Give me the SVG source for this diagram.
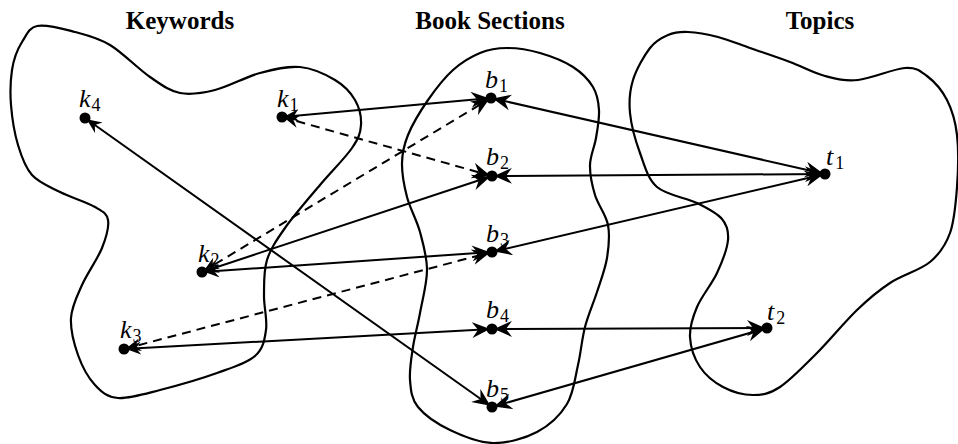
<svg xmlns="http://www.w3.org/2000/svg" width="958" height="444" viewBox="0 0 958 444">
<style>
.blob{fill:none;stroke:#000;stroke-width:2.2}
.e{stroke:#000;stroke-width:2;fill:none;marker-end:url(#big)}
.ks{marker-start:url(#small)}
.bs{marker-start:url(#big)}
.d{stroke-dasharray:9 6}
.dot{fill:#000}
.lab{font-family:"Liberation Serif","Times New Roman",serif;font-style:italic;font-size:26px;fill:#000}
.sub{font-style:normal;font-size:18px}
.title{font-family:"Liberation Serif","Times New Roman",serif;font-weight:bold;font-size:25px;text-anchor:middle;fill:#000}
</style>
<defs>
<marker id="big" viewBox="0 0 18 16" refX="20" refY="8" markerWidth="18" markerHeight="16" markerUnits="userSpaceOnUse" orient="auto-start-reverse"><path d="M18,8 L0,0 L6,8 L0,16 Z" fill="#000"/></marker>
<marker id="small" viewBox="0 0 15 13" refX="17" refY="6.5" markerWidth="15" markerHeight="13" markerUnits="userSpaceOnUse" orient="auto-start-reverse"><path d="M15,6.5 L0,0 L5,6.5 L0,13 Z" fill="#000"/></marker>
</defs>
<g id="titles">
<text class="title" x="180" y="29">Keywords</text>
<text class="title" x="490" y="29">Book Sections</text>
<text class="title" x="820" y="29">Topics</text>
</g>
<g id="regions">
<path id="keywords-region" class="blob" d="M37,26 C46.2,23.8 62.8,28.8 75,32 S 97.5,37.5 110,45 S 138.3,69 150,77 S 169.2,90.8 180,93 S 201.7,93.3 215,90 S 245.8,76.8 260,73 S 287.5,65.8 300,67 S 325.8,74.5 335,80 S 350.7,92.5 355,100 S 361.5,117 361,125 S 358.8,138 352,148 S 331.2,171.7 320,185 S 293.8,215.5 285,228 S 270.5,248.8 267,260 S 264.2,283.3 264,295 S 267.5,319.8 266,330 S 263.2,348.8 255,356 S 232.8,367.3 217,373 S 176.5,385.8 160,390 S 128.8,398.8 118,398 S 101.7,392.2 95,385 S 82,366.2 78,355 S 70.3,329.7 71,318 S 76.8,296.7 82,285 S 97.7,258.8 102,248 S 109.2,226.8 108,220 S 103,211.7 95,207 S 70.5,197.3 60,192 S 39,182.8 32,175 S 21.5,156.7 18,145 S 12,117.5 11,105 S 10.5,80 12,70 S 17,50 22,42 S 30,27 37,26 Z"/>
<path id="sections-region" class="blob" d="M507,48 C517,48 529,49.8 540,53 S 564.2,61.3 573,67 S 588.7,79.8 593,87 S 598.5,101.5 599,110 S 597.5,128.8 596,138 S 590.2,155.5 590,165 S 592,185 595,195 S 606,214.5 608,225 S 608.8,246.8 607,258 S 600.7,280.5 597,292 S 588.2,314.8 585,327 S 581,352.2 578,365 S 573.8,392.8 567,404 S 549.3,425.5 537,432 S 507.5,443.3 493,443 S 462.5,436 450,430 S 424.7,415.3 418,407 S 410.8,390 410,380 S 411.3,358.2 413,347 S 417.7,325.8 420,313 S 427,283.5 427,270 S 423.3,244.2 420,232 S 410,208.5 407,197 S 401.8,173.3 402,163 S 403.7,145.5 408,135 S 420.5,110.8 428,100 S 444.3,77.8 453,70 S 471,56.7 480,53 S 497,48 507,48 Z"/>
<path id="topics-region" class="blob" d="M688,32 C696.3,32.3 707.7,34.3 718,37 S 738,43.8 750,48 S 777.5,57.3 790,62 S 813.7,73 825,76 S 844.7,81.3 858,80 S 893.5,68.7 905,68 S 920,70.7 927,76 S 942,90.2 947,100 S 955.3,120.5 957,135 S 958.2,170.7 957,187 S 954.5,220.5 950,233 S 940,253.7 930,262 S 902.2,275 890,283 S 869.2,298.3 857,310 S 829.8,340.2 817,353 S 790.7,380 780,387 S 762.5,395 753,395 S 731.8,391.7 723,387 S 705.5,375.3 700,367 S 690.5,347 690,337 S 692.5,317.7 697,307 S 711.8,284.2 717,273 S 727.2,249 728,240 S 727.2,225.2 722,219 S 707.8,208.3 697,203 S 666.5,195.3 657,187 S 644.5,165.3 640,153 S 631.2,125.2 630,113 S 629.7,90.8 633,80 S 644.2,55.5 650,48 S 661.7,37.7 668,35 S 679.7,31.7 688,32 Z"/>
</g>
<g id="connectors">
<line class="e ks" x1="282" y1="117" x2="491" y2="98"/>
<line class="e ks d" x1="282" y1="117" x2="492" y2="176"/>
<line class="e ks" x1="85" y1="118" x2="492" y2="407"/>
<line class="e ks d" x1="202" y1="272" x2="491" y2="98"/>
<line class="e ks" x1="202" y1="272" x2="492" y2="176"/>
<line class="e ks" x1="202" y1="272" x2="492" y2="252"/>
<line class="e ks d" x1="124" y1="349" x2="492" y2="252"/>
<line class="e ks" x1="124" y1="349" x2="492" y2="329"/>
<line class="e bs" x1="491" y1="98" x2="825" y2="174"/>
<line class="e bs" x1="492" y1="176" x2="825" y2="174"/>
<line class="e bs" x1="492" y1="252" x2="825" y2="174"/>
<line class="e bs" x1="492" y1="329" x2="767" y2="328"/>
<line class="e bs" x1="492" y1="407" x2="767" y2="328"/>
</g>
<g id="k4"><circle class="dot" cx="85" cy="118" r="5.5"/><text class="lab" x="79" y="107">k<tspan class="sub" dx="1" dy="4">4</tspan></text></g>
<g id="k1"><circle class="dot" cx="282" cy="117" r="5.5"/><text class="lab" x="277" y="107">k<tspan class="sub" dx="1" dy="4">1</tspan></text></g>
<g id="k2"><circle class="dot" cx="202" cy="272" r="5.5"/><text class="lab" x="198" y="262">k<tspan class="sub" dx="1" dy="4">2</tspan></text></g>
<g id="k3"><circle class="dot" cx="124" cy="349" r="5.5"/><text class="lab" x="120" y="338">k<tspan class="sub" dx="1" dy="4">3</tspan></text></g>
<g id="b1"><circle class="dot" cx="491" cy="98" r="5.5"/><text class="lab" x="485" y="88">b<tspan class="sub" dx="1" dy="4">1</tspan></text></g>
<g id="b2"><circle class="dot" cx="492" cy="176" r="5.5"/><text class="lab" x="486" y="165">b<tspan class="sub" dx="1" dy="4">2</tspan></text></g>
<g id="b3"><circle class="dot" cx="492" cy="252" r="5.5"/><text class="lab" x="486" y="242">b<tspan class="sub" dx="1" dy="4">3</tspan></text></g>
<g id="b4"><circle class="dot" cx="492" cy="329" r="5.5"/><text class="lab" x="486" y="318">b<tspan class="sub" dx="1" dy="4">4</tspan></text></g>
<g id="b5"><circle class="dot" cx="492" cy="407" r="5.5"/><text class="lab" x="486" y="397">b<tspan class="sub" dx="1" dy="4">5</tspan></text></g>
<g id="t1"><circle class="dot" cx="825" cy="174" r="5.5"/><text class="lab" x="826" y="165">t<tspan class="sub" dx="2" dy="4">1</tspan></text></g>
<g id="t2"><circle class="dot" cx="767" cy="328" r="5.5"/><text class="lab" x="767" y="320">t<tspan class="sub" dx="2" dy="4">2</tspan></text></g>
</svg>
